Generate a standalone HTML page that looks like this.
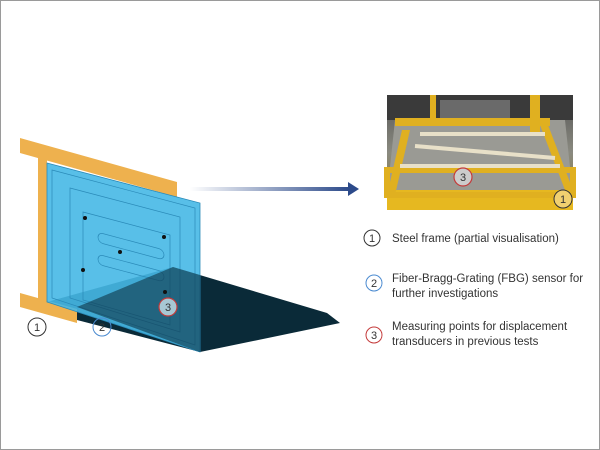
<!DOCTYPE html>
<html><head><style>
html,body{margin:0;padding:0;background:#fff}
.w{position:relative;width:598px;height:448px;border:1px solid #9a9a9a;overflow:hidden;font-family:"Liberation Sans",sans-serif}
</style></head><body><div class="w">
<svg width="600" height="450" viewBox="0 0 600 450" style="position:absolute;left:-1px;top:-1px">
<defs>
<linearGradient id="ar" x1="0" x2="1" y1="0" y2="0"><stop offset="0" stop-color="#fff"/><stop offset="1" stop-color="#2c4a8a"/></linearGradient>
<linearGradient id="ph" x1="0" x2="0" y1="0" y2="1"><stop offset="0" stop-color="#555"/><stop offset="0.5" stop-color="#8a8a80"/><stop offset="1" stop-color="#8a7a30"/></linearGradient>
</defs>
<polygon points="47,302 173,267 327,313 340,323 200,352 77,320" fill="#0a2a38"/>
<polygon points="20,138 177,182 177,197 20,153" fill="#eeb14e"/>
<rect x="38" y="150" width="9" height="155" fill="#eeb14e"/>
<polygon points="20,293 77,309 77,323 20,307" fill="#eeb14e"/>
<polygon points="47,163 200,203 200,352 47,302" fill="#46b8e6" fill-opacity="0.9" stroke="#2a8ab8" stroke-width="0.8"/>
<polygon points="52,170 195,208 195,345 52,298" fill="none" stroke="#2a8ab8" stroke-width="0.7"/>
<polygon points="70,188 180,217 180,332 70,298" fill="none" stroke="#2a8ab8" stroke-width="0.7"/>
<polygon points="83,212 170,235 170,325 83,300" fill="none" stroke="#2a8ab8" stroke-width="0.7"/>
<rect x="98" y="234" width="66" height="10" rx="5" transform="skewY(15) translate(0,-28)" fill="none" stroke="#2a8ab8" stroke-width="0.7"/>
<rect x="98" y="256" width="66" height="10" rx="5" transform="skewY(15) translate(0,-28)" fill="none" stroke="#2a8ab8" stroke-width="0.7"/>
<polygon points="77,307 173,267 200,275 200,352" fill="#0a2a38" fill-opacity="0.55"/>
<g fill="#111"><circle cx="85" cy="218" r="2"/><circle cx="164" cy="237" r="2"/><circle cx="120" cy="252" r="2"/><circle cx="83" cy="270" r="2"/><circle cx="165" cy="292" r="2"/></g>
<circle cx="168" cy="307" r="9" fill="#a8c8d4" stroke="#c43a3a" stroke-width="1.2"/>
<text x="168" y="311" font-size="11" text-anchor="middle" fill="#333">3</text>
<circle cx="37" cy="327" r="9" fill="#fff" stroke="#333" stroke-width="1"/>
<text x="37" y="331" font-size="11" text-anchor="middle" fill="#333">1</text>
<circle cx="102" cy="327" r="9" fill="none" stroke="#4a8ad0" stroke-width="1"/>
<text x="102" y="331" font-size="11" text-anchor="middle" fill="#333">2</text>
<rect x="190" y="187" width="160" height="4" fill="url(#ar)"/>
<polygon points="348,182 359,189 348,196" fill="#2c4a8a"/>
<rect x="387" y="95" width="186" height="115" fill="url(#ph)"/>
<rect x="387" y="95" width="186" height="25" fill="#3a3a3a"/>
<rect x="440" y="100" width="70" height="18" fill="#6a6a6a"/>
<polygon points="395,120 565,120 573,195 387,195" fill="#9a9a94"/>
<polygon points="395,118 550,118 550,126 395,126" fill="#e0b020"/>
<polygon points="387,190 573,190 573,210 387,210" fill="#e6b820"/>
<polygon points="387,170 573,170 573,195 387,195" fill="none" stroke="#e0b020" stroke-width="6"/>
<polygon points="402,130 410,130 395,195 387,195" fill="#e0b020"/>
<polygon points="540,125 548,125 573,190 565,190" fill="#e0b020"/>
<rect x="430" y="95" width="6" height="30" fill="#e0b020"/>
<rect x="530" y="95" width="10" height="40" fill="#e0b020"/>
<line x1="420" y1="134" x2="545" y2="134" stroke="#e8e0c8" stroke-width="4"/>
<line x1="415" y1="146" x2="555" y2="158" stroke="#e8e0c8" stroke-width="4"/>
<line x1="400" y1="166" x2="560" y2="166" stroke="#e8e0c8" stroke-width="4"/>
<circle cx="463" cy="177" r="9" fill="#ccc" stroke="#c43a3a" stroke-width="1.2"/>
<text x="463" y="181" font-size="11" text-anchor="middle" fill="#333">3</text>
<circle cx="563" cy="199" r="9" fill="#f0d070" stroke="#333" stroke-width="1"/>
<text x="563" y="203" font-size="11" text-anchor="middle" fill="#333">1</text>
<g font-size="11.5" fill="#333">
<circle cx="372" cy="238" r="8" fill="none" stroke="#333"/><text x="372" y="242" font-size="11" text-anchor="middle">1</text>
<text x="392" y="242">Steel frame (partial visualisation)</text>
<circle cx="374" cy="283" r="8" fill="none" stroke="#4a8ad0"/><text x="374" y="287" font-size="11" text-anchor="middle">2</text>
<text x="392" y="282">Fiber-Bragg-Grating (FBG) sensor for</text>
<text x="392" y="297">further investigations</text>
<circle cx="374" cy="335" r="8" fill="none" stroke="#c43a3a"/><text x="374" y="339" font-size="11" text-anchor="middle">3</text>
<text x="392" y="330">Measuring points for displacement</text>
<text x="392" y="345">transducers in previous tests</text>
</g>
</svg>
</div></body></html>
